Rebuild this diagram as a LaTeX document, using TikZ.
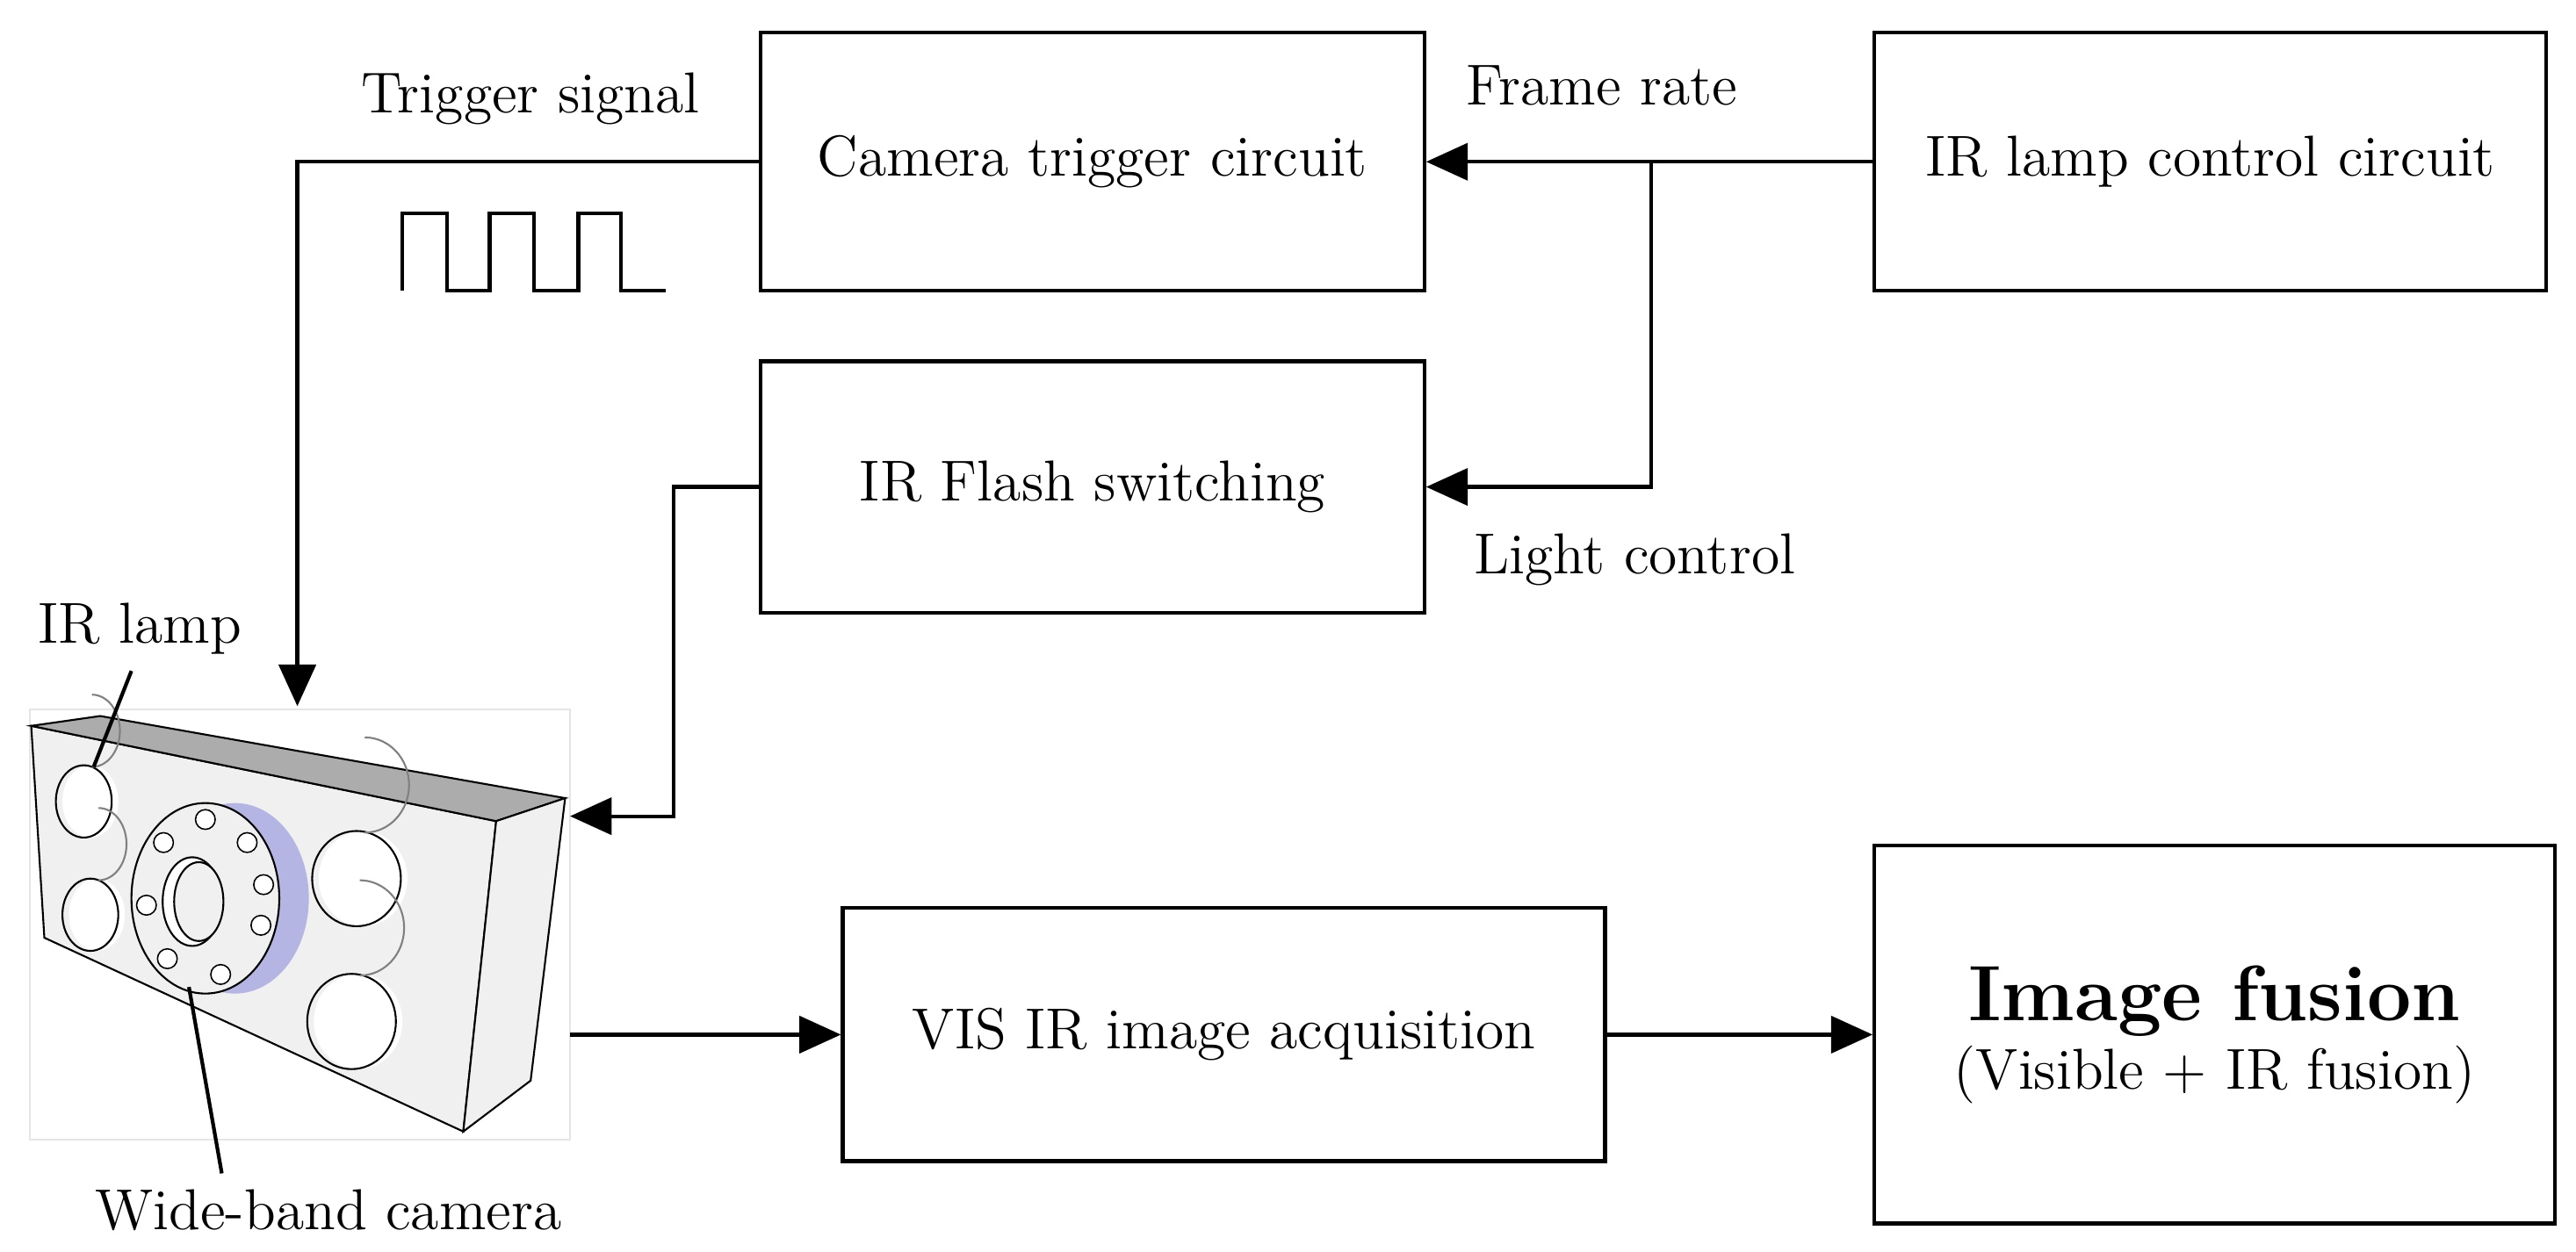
\documentclass[tikz,border=0pt]{standalone}
\usepackage{amsmath}
\usepackage{tikz}
\usetikzlibrary{positioning,arrows.meta}
\begin{document}
\begin{tikzpicture}
        [x=0.0125cm,y=-0.0125cm,
        BoxNode/.style={rectangle,draw=black,thick,font=\fontsize{12.5}{15}\selectfont},
        TxtNode/.style={font=\fontsize{12.5}{15}\selectfont},
        Arr/.style={thick,-{Triangle[length=9pt,width=8pt]}},
        FaceFill/.style={fill=gray!12,draw=black,line width=0.4pt}]

        % 画布大小
        \useasboundingbox (0,0) rectangle (1568,762);

        % 添加方框结点
        \node[BoxNode,minimum width=404*0.0125cm,minimum height=157*0.0125cm] (trig) at (665,98.5) {Camera trigger circuit};
        \node[BoxNode,minimum width=409*0.0125cm,minimum height=157*0.0125cm] (lamp) at (1345.5,98.5) {IR lamp control circuit};
        \node[BoxNode,minimum width=404*0.0125cm,minimum height=153*0.0125cm] (flash) at (665,296.5) {IR Flash switching};
        \node[BoxNode,minimum width=464*0.0125cm,minimum height=154*0.0125cm] (acq) at (745,630) {VIS IR image acquisition};
        \node[BoxNode,minimum width=414*0.0125cm,minimum height=230*0.0125cm,align=center] (fus) at (1348,630)
            {{\fontsize{17}{20}\selectfont\bfseries Image fusion}\\(Visible + IR fusion)};

        % 相机外形
        \draw[draw=gray!20] (18,432) rectangle (347,694);
        \draw[FaceFill] (19,442)--(302,500)--(282,689)--(27,571)--cycle;
        \draw[fill=gray!65,draw=black,line width=0.4pt] (19,442)--(61,436)--(344,486)--(302,500)--cycle;
        \draw[FaceFill] (302,500)--(344,486)--(323,658)--(282,689)--cycle;
        % 红外灯
        \foreach \cx/\cy/\rx/\ry in {51/488/17/22, 55/557/17/22, 217/535/27/29, 214/622/27/29}{
            \fill[white] (\cx+4,\cy) ellipse ({\rx} and {\ry});
            \draw[line width=0.4pt] (\cx,\cy) ellipse ({\rx} and {\ry});
            \draw[line width=0.4pt,gray] (\cx+5,\cy-\ry+1) arc (90:-90:{\rx} and {\ry});
        }
        % 镜头
        \fill[gray!55!blue!40] (143,547) ellipse (45 and 58);
        \draw[line width=0.4pt,fill=gray!12] (125,547) ellipse (45 and 58);
        \draw[line width=0.4pt,fill=white] (117,549) ellipse (18 and 27);
        \draw[line width=0.4pt,fill=gray!12] (121,549) ellipse (15 and 24);
        \foreach \a in {20,75,130,175,225,270,315,350}
            \draw[line width=0.3pt,fill=white] ([shift={(\a:36 and 48)}]125,547) circle (6);
        \coordinate (camtop) at (181,430);
        \coordinate (camside) at (347,497);
        \coordinate (camout) at (347,630);

        % 连线
        \draw[Arr] (lamp.west) -- (trig.east);
        \draw[Arr] (1005,98.5) |- (flash.east);
        \draw[Arr] (trig.west) -| (camtop);
        \draw[Arr] (flash.west) -| (410,497) -- (camside);
        \draw[Arr] (camout) -- (acq.west);
        \draw[Arr] (acq.east) -- (fus.west);

        % 触发信号方波
        \draw[thick] (245,177)--(245,130)--(272,130)--(272,177)--(298,177)--(298,130)--(325,130)--(325,177)
            --(352,177)--(352,130)--(378,130)--(378,177)--(405,177);

        % 说明文字
        \node[TxtNode] (tsig) at (323,60) {Trigger signal};
        \node[TxtNode] (frate) at (975,52) {Frame rate};
        \node[TxtNode] (lctl) at (995,341) {Light control};
        \node[TxtNode] (irl) at (85,383) {IR lamp};
        \node[TxtNode] (wbc) at (200,737) {Wide-band camera};
        \draw[thick] (irl.south) ++(-5,0) -- (57,467);
        \draw[thick] (wbc.north) ++(-65,0) -- (115,601);
\end{tikzpicture}
\end{document}
